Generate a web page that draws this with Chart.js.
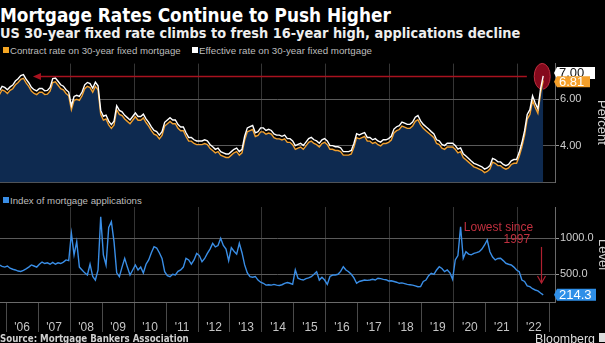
<!DOCTYPE html>
<html>
<head>
<meta charset="utf-8">
<script src="https://cdn.jsdelivr.net/npm/chart.js@4.4.0/dist/chart.umd.min.js"></script>
<style>
  html, body { margin:0; padding:0; background:#000; }
  body { width:605px; height:343px; overflow:hidden; position:relative; font-family:"Liberation Sans", Arial, sans-serif; }
  .t { position:absolute; white-space:nowrap; line-height:1; }
  #title { left:0; top:5px; font:bold 18px "DejaVu Sans Condensed","DejaVu Sans",sans-serif; color:#fff; }
  #subtitle { left:0; top:25px; font:bold 14px "DejaVu Sans Condensed","DejaVu Sans",sans-serif; color:#eee; }
  .lg { font:11px "Liberation Sans Narrow","Liberation Sans",sans-serif; color:#bdbdbd; }
  .sq { position:absolute; width:6px; height:6px; }
  #source { left:0; top:333px; font:bold 10px "DejaVu Sans Condensed","DejaVu Sans",sans-serif; color:#cfcfcf; }
  #bbg { left:535px; top:332px; font:12px "Liberation Sans",sans-serif; color:#ddd; }
  .axt { position:absolute; font:13px "Liberation Sans",sans-serif; color:#cfcfcf; transform:rotate(90deg); transform-origin:center center; white-space:nowrap; line-height:1; }
  .wrap { position:absolute; left:0; width:605px; }
</style>
</head>
<body>
<div id="title" class="t">Mortgage Rates Continue to Push Higher</div>
<div id="subtitle" class="t">US 30-year fixed rate climbs to fresh 16-year high, applications decline</div>

<div class="sq" style="left:3px;top:47px;background:#f5a623"></div>
<div id="lg1" class="t lg" style="left:10px;top:45px">Contract rate on 30-year fixed mortgage</div>
<div class="sq" style="left:192px;top:47px;background:#fff"></div>
<div id="lg2" class="t lg" style="left:199px;top:45px">Effective rate on 30-year fixed mortgage</div>

<div class="sq" style="left:3px;top:197px;background:#3a8ee6"></div>
<div id="lg3" class="t lg" style="left:10px;top:195px">Index of mortgage applications</div>

<div class="wrap" style="top:56px;height:134px"><canvas id="topChart" width="605" height="134"></canvas></div>
<div class="wrap" style="top:190px;height:153px"><canvas id="botChart" width="605" height="153"></canvas></div>

<div class="axt" id="pct" style="left:580px;top:116px">Percent</div>
<div class="axt" id="lvl" style="left:588px;top:248px">Level</div>

<div id="source" class="t">Source: Mortgage Bankers Association</div>
<div id="bbg" class="t">Bloomberg</div>
<div style="position:absolute;left:599px;top:333px;width:8px;height:9px;background:#ddd"></div>

<script>
// ---------------- DATA (monthly, Oct 2005 .. Oct 2022) ----------------
const START_YEAR = 2005;
const START_MONTH = 10;

const contractRate = [
  6.20, 6.40, 6.35,
  6.25, 6.38, 6.45, 6.62, 6.72, 6.85, 6.90, 6.70, 6.55, 6.35, 6.25, 6.20,
  6.30, 6.30, 6.20, 6.22, 6.35, 6.72, 6.75, 6.60, 6.45, 6.40, 6.25, 6.15,
  5.55, 5.95, 6.00, 5.95, 6.15, 6.45, 6.55, 6.50, 6.30, 6.55, 6.40, 5.35,
  5.10, 5.15, 4.90, 4.75, 4.90, 5.55, 5.35, 5.30, 5.15, 5.05, 4.95, 5.10,
  5.25, 5.10, 5.10, 5.20, 5.00, 4.85, 4.65, 4.50, 4.45, 4.30, 4.45, 4.85,
  4.95, 5.05, 4.95, 4.95, 4.75, 4.65, 4.65, 4.40, 4.20, 4.20, 4.10, 4.05,
  4.05, 4.05, 4.10, 4.05, 3.90, 3.80, 3.70, 3.75, 3.60, 3.55, 3.50, 3.50,
  3.60, 3.70, 3.75, 3.60, 3.70, 4.25, 4.60, 4.65, 4.70, 4.40, 4.45, 4.60,
  4.60, 4.50, 4.55, 4.50, 4.35, 4.30, 4.30, 4.25, 4.30, 4.15, 4.15, 4.05,
  3.85, 3.90, 3.95, 3.85, 4.00, 4.15, 4.20, 4.10, 4.05, 3.95, 4.10, 4.15,
  4.05, 3.85, 3.85, 3.80, 3.80, 3.75, 3.60, 3.60, 3.60, 3.65, 3.95, 4.35,
  4.30, 4.35, 4.40, 4.20, 4.20, 4.10, 4.15, 4.05, 4.00, 4.10, 4.10, 4.15,
  4.25, 4.55, 4.65, 4.70, 4.85, 4.80, 4.75, 4.75, 4.85, 5.05, 5.12, 4.90,
  4.75, 4.65, 4.55, 4.45, 4.35, 4.10, 4.05, 3.90, 3.85, 3.95, 3.95, 3.95,
  3.85, 3.70, 3.75, 3.50, 3.40, 3.30, 3.20, 3.10, 3.05, 3.00, 2.95, 2.85,
  2.90, 3.00, 3.30, 3.25, 3.15, 3.15, 3.05, 3.00, 3.05, 3.20, 3.25, 3.25,
  3.55, 3.95, 4.45, 5.15, 5.35, 5.95, 5.65, 5.40, 6.25, 6.81
];

const effectiveRate = [
  6.36, 6.55, 6.51,
  6.41, 6.53, 6.61, 6.78, 6.88, 7.02, 7.06, 6.86, 6.71, 6.51, 6.41, 6.36,
  6.46, 6.46, 6.36, 6.38, 6.51, 6.89, 6.91, 6.77, 6.62, 6.56, 6.41, 6.31,
  5.72, 6.12, 6.17, 6.12, 6.31, 6.62, 6.72, 6.67, 6.47, 6.73, 6.58, 5.52,
  5.27, 5.32, 5.06, 4.91, 5.06, 5.72, 5.52, 5.46, 5.31, 5.21, 5.11, 5.26,
  5.41, 5.26, 5.26, 5.36, 5.16, 5.01, 4.81, 4.66, 4.61, 4.46, 4.61, 5.01,
  5.11, 5.21, 5.11, 5.11, 4.91, 4.81, 4.81, 4.56, 4.36, 4.36, 4.26, 4.21,
  4.21, 4.21, 4.26, 4.21, 4.06, 3.96, 3.85, 3.90, 3.75, 3.70, 3.65, 3.65,
  3.75, 3.85, 3.90, 3.75, 3.85, 4.41, 4.77, 4.82, 4.87, 4.56, 4.61, 4.77,
  4.77, 4.66, 4.71, 4.66, 4.51, 4.46, 4.46, 4.41, 4.46, 4.31, 4.31, 4.21,
  4.01, 4.06, 4.11, 4.01, 4.16, 4.31, 4.36, 4.26, 4.21, 4.11, 4.26, 4.31,
  4.21, 4.01, 4.01, 3.96, 3.96, 3.91, 3.75, 3.75, 3.75, 3.80, 4.11, 4.52,
  4.47, 4.52, 4.57, 4.36, 4.36, 4.26, 4.31, 4.21, 4.16, 4.26, 4.26, 4.31,
  4.41, 4.72, 4.82, 4.87, 5.02, 4.97, 4.92, 4.92, 5.02, 5.23, 5.30, 5.07,
  4.92, 4.82, 4.72, 4.61, 4.51, 4.26, 4.21, 4.06, 4.01, 4.11, 4.11, 4.11,
  4.01, 3.86, 3.91, 3.66, 3.56, 3.46, 3.35, 3.25, 3.20, 3.15, 3.10, 3.00,
  3.05, 3.15, 3.46, 3.41, 3.31, 3.31, 3.20, 3.15, 3.20, 3.36, 3.41, 3.41,
  3.72, 4.13, 4.64, 5.35, 5.55, 6.15, 5.84, 5.59, 6.45, 7.00
];

const appsIndex = [
  629, 610, 600,
  615, 585, 570, 560, 545, 540, 555, 575, 600, 630, 615, 600,
  640, 670, 650, 660, 640, 665, 640, 660, 650, 670, 700, 690,
  1069, 770, 953, 600, 560, 520, 490, 640, 470, 420, 560, 1300,
  770, 630, 1150, 1230, 950, 520, 467, 600, 722, 600, 490, 560,
  629, 560, 600, 518, 640, 700, 800, 883, 865, 800, 720, 536,
  480, 467, 500, 490, 540, 560, 600, 722, 700, 640, 700, 790,
  760, 675, 720, 790, 850, 930, 880, 900, 1000, 900, 850, 690,
  870, 820, 780, 930, 800, 630, 520, 467, 460, 470, 420, 390,
  375, 350, 355, 350, 360, 350, 345, 355, 375, 385, 375, 360,
  560, 445, 430, 420, 440, 450, 467, 500, 536, 420, 460, 420,
  360, 470, 490, 490, 500, 540, 605, 560, 536, 500, 450, 375,
  400, 410, 420, 415, 420, 430, 420, 445, 440, 430, 425, 407,
  410, 400, 390, 375, 380, 370, 360, 355, 350, 340, 328, 330,
  400, 420, 480, 514, 500, 560, 605, 580, 536, 560, 520, 430,
  700, 760, 1160, 722, 814, 780, 770, 790, 800, 814, 850, 907,
  976, 814, 740, 700, 720, 722, 690, 653, 640, 629, 600, 560,
  536, 420, 400, 340, 328, 300, 282, 270, 240, 214.3
];

const yearTicks  = [2006,2007,2008,2009,2010,2011,2012,2013,2014,2015,2016,2017,2018,2019,2020,2021,2022,2023];
const yearLabels = ["'06","'07","'08","'09","'10","'11","'12","'13","'14","'15","'16","'17","'18","'19","'20","'21","'22",""];
const rateTicks  = [4, 6];
const appsTicks  = [500, 1000];

// annotation values
const peakArrowLevel = 6.98;    // horizontal arrow back to 2006 high
const peakArrowFrom  = 2006.84;
const peakArrowTo    = 2022.28;
const annotText      = ["Lowest since", "1997"];
const annotTextLevel = [1143, 976];
const annotArrowFrom = 880, annotArrowTo = 380;

// ---------------- helpers ----------------
const X_MIN = 2005.81, X_MAX = 2023.16;
function monthX(i) { return START_YEAR + (START_MONTH - 1 + i) / 12 + 1 / 24; }
function toPoints(arr) { return arr.map((v, i) => ({ x: monthX(i), y: v })); }
const lastX = monthX(contractRate.length - 1);

const GRID_V = ctx => (ctx.tick && ctx.tick.value > 2006 && ctx.tick.value % 2 === 0) ? '#353535' : 'rgba(0,0,0,0)';
const TICK_FONT = { family: '"Liberation Sans", Arial, sans-serif', size: 11 };

function tag(ctx, xl, yc, w, h, bg, fg, text, font) {
  ctx.save();
  ctx.fillStyle = bg;
  ctx.beginPath();
  ctx.moveTo(xl - 3, yc);
  ctx.lineTo(xl, yc - h / 2);
  ctx.lineTo(xl + w, yc - h / 2);
  ctx.lineTo(xl + w, yc + h / 2);
  ctx.lineTo(xl, yc + h / 2);
  ctx.closePath();
  ctx.fill();
  ctx.fillStyle = fg;
  ctx.font = font || '13px "Liberation Sans", Arial, sans-serif';
  ctx.textAlign = 'left';
  ctx.textBaseline = 'middle';
  ctx.fillText(text, xl + 2, yc + 0.5);
  ctx.restore();
}

// ---------------- TOP CHART ----------------
const topPlugin = {
  id: 'topDeco',
  beforeDatasetsDraw(chart) {
    const { ctx, scales: { x, y } } = chart;
    const ex = x.getPixelForValue(lastX), ey = y.getPixelForValue(peakArrowLevel);
    ctx.save();
    ctx.beginPath();
    ctx.ellipse(ex - 1, ey, 8, 13, 0, 0, Math.PI * 2);
    ctx.fillStyle = 'rgba(140,10,30,0.95)';
    ctx.fill();
    ctx.strokeStyle = '#c23040';
    ctx.lineWidth = 1;
    ctx.stroke();
    ctx.restore();
  },
  afterDatasetsDraw(chart) {
    const { ctx, scales: { x, y } } = chart;
    const ay = Math.round(y.getPixelForValue(peakArrowLevel)) + 0.5;
    const x1 = x.getPixelForValue(peakArrowFrom), x2 = x.getPixelForValue(peakArrowTo);
    ctx.save();
    ctx.strokeStyle = '#a8121f';
    ctx.fillStyle = '#a8121f';
    ctx.lineWidth = 1.6;
    ctx.beginPath(); ctx.moveTo(x1 + 6, ay); ctx.lineTo(x2, ay); ctx.stroke();
    ctx.beginPath(); ctx.moveTo(x1, ay); ctx.lineTo(x1 + 8, ay - 3.5); ctx.lineTo(x1 + 8, ay + 3.5); ctx.closePath(); ctx.fill();
    ctx.restore();
  },
  afterDraw(chart) {
    const { ctx, scales: { y }, chartArea } = chart;
    const xl = chartArea.right + 2;
    const eff = effectiveRate[effectiveRate.length - 1];
    const con = contractRate[contractRate.length - 1];
    tag(ctx, xl, y.getPixelForValue(eff) - 3, 38, 12, '#ffffff', '#111', eff.toFixed(2));
    tag(ctx, xl, y.getPixelForValue(con) + 1.5, 33, 11, '#f5a02a', '#fff', con.toFixed(2));
  }
};

new Chart(document.getElementById('topChart'), {
  type: 'line',
  data: {
    datasets: [
      { label: 'Effective rate on 30-year fixed mortgage', data: toPoints(effectiveRate),
        borderColor: '#ffffff', borderWidth: 1.4, pointRadius: 0, fill: false, order: 0 },
      { label: 'Contract rate on 30-year fixed mortgage', data: toPoints(contractRate),
        borderColor: '#f0a030', borderWidth: 1.4, pointRadius: 0, fill: 'start',
        backgroundColor: '#0e2a50', order: 1 }
    ]
  },
  options: {
    responsive: false, animation: false, devicePixelRatio: 1,
    layout: { padding: { top: 2, bottom: 3, left: 0, right: 0 } },
    plugins: { legend: { display: false }, tooltip: { enabled: false } },
    scales: {
      x: {
        type: 'linear', min: X_MIN, max: X_MAX,
        afterBuildTicks: s => { s.ticks = yearTicks.map(v => ({ value: v })); },
        afterFit: s => { s.height = 0; },
        ticks: { display: false },
        grid: { color: GRID_V, drawTicks: false, lineWidth: 1 },
        border: { display: true, color: '#5a5a5a' }
      },
      y: {
        position: 'right', min: 2.43, max: 7.53,
        afterBuildTicks: s => { s.ticks = rateTicks.map(v => ({ value: v })); },
        afterFit: s => { s.width = 50; },
        ticks: { color: '#cfcfcf', font: TICK_FONT, padding: 1, callback: v => v.toFixed(2) },
        grid: { color: '#5a5a5a', borderDash: [1, 2], tickLength: 4, tickColor: '#999', tickBorderDash: [] },
        border: { display: true, color: '#6a6a6a' }
      }
    }
  },
  plugins: [topPlugin]
});

// ---------------- BOTTOM CHART ----------------
const botPlugin = {
  id: 'botDeco',
  afterDraw(chart) {
    const { ctx, scales: { x, y }, chartArea } = chart;
    const last = appsIndex[appsIndex.length - 1];
    tag(ctx, chartArea.right + 2, y.getPixelForValue(last), 39, 12, '#2f8fe8', '#fff', last.toFixed(1));
    // annotation
    const lx = x.getPixelForValue(lastX);
    ctx.save();
    ctx.fillStyle = '#c0303f';
    ctx.strokeStyle = '#b02030';
    ctx.font = '12px "Liberation Sans", Arial, sans-serif';
    ctx.textAlign = 'right';
    ctx.textBaseline = 'middle';
    ctx.fillText(annotText[0], lx - 10, y.getPixelForValue(annotTextLevel[0]));
    ctx.fillText(annotText[1], lx - 13, y.getPixelForValue(annotTextLevel[1]));
    const ax = Math.round(lx - 2) + 0.5;
    const y1 = y.getPixelForValue(annotArrowFrom), y2 = y.getPixelForValue(annotArrowTo);
    ctx.lineWidth = 1.2;
    ctx.beginPath(); ctx.moveTo(ax, y1); ctx.lineTo(ax, y2); ctx.stroke();
    ctx.beginPath(); ctx.moveTo(ax - 4, y2 - 7); ctx.lineTo(ax, y2); ctx.lineTo(ax + 4, y2 - 7); ctx.stroke();
    ctx.restore();
  }
};

new Chart(document.getElementById('botChart'), {
  type: 'line',
  data: {
    datasets: [
      { label: 'Index of mortgage applications', data: toPoints(appsIndex),
        borderColor: '#3a8ee6', borderWidth: 1.4, pointRadius: 0, fill: false }
    ]
  },
  options: {
    responsive: false, animation: false, devicePixelRatio: 1,
    layout: { padding: { top: 17, bottom: 0, left: 0, right: 0 } },
    plugins: { legend: { display: false }, tooltip: { enabled: false } },
    scales: {
      x: {
        type: 'linear', min: X_MIN, max: X_MAX,
        afterBuildTicks: s => { s.ticks = yearTicks.map(v => ({ value: v })); },
        afterFit: s => { s.height = 41; },
        ticks: {
          color: '#c4c4c4', font: { family: '"Liberation Sans", Arial, sans-serif', size: 12 },
          padding: -12, labelOffset: 16, autoSkip: false, maxRotation: 0, minRotation: 0,
          callback: (v) => yearLabels[yearTicks.indexOf(v)]
        },
        grid: { color: GRID_V, tickColor: '#4a4a4a', tickLength: 30, lineWidth: 1 },
        border: { display: true, color: '#6a6a6a' }
      },
      y: {
        position: 'right', min: 115, max: 1435,
        afterBuildTicks: s => { s.ticks = appsTicks.map(v => ({ value: v })); },
        afterFit: s => { s.width = 50; },
        ticks: { color: '#cfcfcf', font: TICK_FONT, padding: 1, callback: v => v.toFixed(1) },
        grid: { color: '#5a5a5a', borderDash: [1, 2], tickLength: 4, tickColor: '#999', tickBorderDash: [] },
        border: { display: true, color: '#6a6a6a' }
      }
    }
  },
  plugins: [botPlugin]
});

// ---------------- fit text widths to the reference layout ----------------
function fitWidth(id, target) {
  const el = document.getElementById(id);
  const w = el.getBoundingClientRect().width;
  const fs = parseFloat(getComputedStyle(el).fontSize);
  if (w > 0) el.style.fontSize = (fs * target / w).toFixed(2) + 'px';
}
fitWidth('title', 391);
fitWidth('subtitle', 521);
fitWidth('lg1', 171);
fitWidth('lg2', 173);
fitWidth('lg3', 132);
fitWidth('source', 189);
fitWidth('bbg', 60);
</script>
</body>
</html>
